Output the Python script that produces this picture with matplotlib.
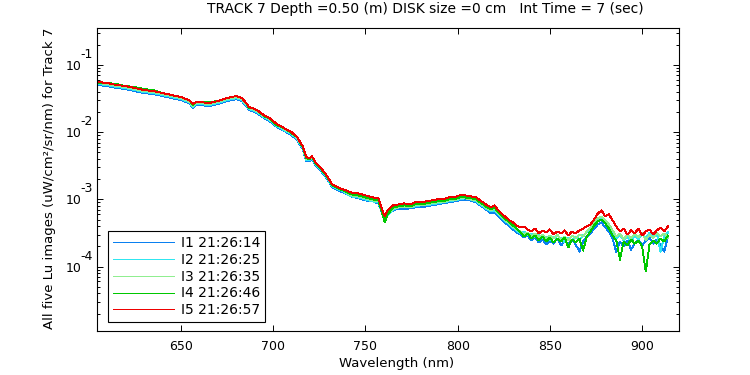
import math
import matplotlib
matplotlib.use("Agg")
import matplotlib.pyplot as plt
import matplotlib.transforms as mtransforms
from matplotlib.ticker import NullLocator, LogLocator, NullFormatter

plt.rcParams['font.family'] = ['DejaVu Sans']
plt.rcParams['font.size'] = 9

# wavelength samples (nm)
wavelength = [605, 610, 615, 620, 625, 630, 635, 640, 645, 650,
              653, 655, 656.5, 658, 661, 665, 670, 675, 680,
              683, 685, 687, 689, 692, 695, 698,
              702, 706, 710, 713, 716, 718, 719.5, 721, 723, 726, 729, 732, 735, 738,
              742, 746, 750, 754, 757, 759, 760.5, 762, 765,
              768, 771, 774, 777, 780, 783, 786, 789, 792, 795, 798, 801, 804, 807, 810,
              813, 816, 818, 820, 822, 825, 828,
              830, 832, 834, 836, 838, 840, 842, 844, 846, 848, 850, 852, 854, 856, 858,
              860, 862, 864, 866, 868, 870, 872, 874, 876, 878, 880, 882, 884, 886, 888,
              890, 892, 894, 896, 898, 900, 902, 904, 906, 908, 910, 912, 914]

# Lu (uW/cm^2/sr/nm), one list per image
lu_i1 = [0.0503, 0.0486, 0.0454, 0.0438, 0.0409, 0.0382, 0.0369, 0.0345, 0.0322, 0.0300,
         0.0280, 0.0262, 0.0228, 0.0253, 0.0253, 0.0244, 0.0262, 0.0290, 0.0311,
         0.0290, 0.0253, 0.0213, 0.0206, 0.0186, 0.0162, 0.0146,
         0.0119, 0.0104, 0.00902, 0.00760, 0.00558, 0.00369, 0.00369, 0.00395, 0.00322, 0.00262, 0.00206, 0.00151, 0.00136, 0.00127,
         0.00111, 0.00104, 0.000966, 0.000934, 0.000872, 0.000640, 0.000503, 0.000597, 0.000685,
         0.000734, 0.000709, 0.000734, 0.000760, 0.000760, 0.000786, 0.000814, 0.000842, 0.000872, 0.000902, 0.000934, 0.000966, 0.00100, 0.000966, 0.000902,
         0.000786, 0.000685, 0.000618, 0.000640, 0.000558, 0.000470, 0.000395,
         0.000357, 0.000322, 0.000300, 0.000271, 0.000290, 0.000244, 0.000271, 0.000228, 0.000253, 0.000213, 0.000244, 0.000220, 0.000262, 0.000206, 0.000236,
         0.000220, 0.000253, 0.000213, 0.000167, 0.000236, 0.000280, 0.000311, 0.000369, 0.000424, 0.000454, 0.000382, 0.000333, 0.000262, 0.000162, 0.000236,
         0.000199, 0.000244, 0.000179, 0.000220, 0.000253, 0.000206, 0.000244, 0.000271, 0.000220, 0.000253, 0.000213, 0.000167, 0.000280]

lu_i2 = [0.0520, 0.0503, 0.0470, 0.0454, 0.0424, 0.0395, 0.0382, 0.0357, 0.0333, 0.0311,
         0.0290, 0.0271, 0.0236, 0.0262, 0.0262, 0.0253, 0.0271, 0.0300, 0.0322,
         0.0300, 0.0262, 0.0220, 0.0213, 0.0192, 0.0167, 0.0151,
         0.0123, 0.0107, 0.00934, 0.00786, 0.00577, 0.00382, 0.00382, 0.00409, 0.00333, 0.00271, 0.00213, 0.00156, 0.00141, 0.00132,
         0.00111, 0.00107, 0.00100, 0.000934, 0.000902, 0.000640, 0.000486, 0.000577, 0.000709,
         0.000760, 0.000760, 0.000760, 0.000786, 0.000814, 0.000814, 0.000842, 0.000872, 0.000902, 0.000934, 0.000966, 0.00100, 0.00104, 0.00100, 0.000934,
         0.000814, 0.000709, 0.000662, 0.000685, 0.000597, 0.000503, 0.000424,
         0.000382, 0.000345, 0.000311, 0.000333, 0.000290, 0.000311, 0.000271, 0.000300, 0.000262, 0.000280, 0.000244, 0.000280, 0.000253, 0.000271, 0.000228,
         0.000271, 0.000244, 0.000280, 0.000253, 0.000290, 0.000322, 0.000369, 0.000438, 0.000503, 0.000539, 0.000470, 0.000409, 0.000333, 0.000262, 0.000300,
         0.000244, 0.000280, 0.000236, 0.000290, 0.000253, 0.000311, 0.000262, 0.000322, 0.000271, 0.000311, 0.000167, 0.000280, 0.000322]

lu_i3 = [0.0539, 0.0520, 0.0486, 0.0470, 0.0438, 0.0409, 0.0395, 0.0369, 0.0345, 0.0322,
         0.0300, 0.0280, 0.0244, 0.0271, 0.0271, 0.0262, 0.0280, 0.0311, 0.0333,
         0.0311, 0.0271, 0.0228, 0.0220, 0.0199, 0.0173, 0.0156,
         0.0127, 0.0111, 0.00966, 0.00814, 0.00597, 0.00395, 0.00395, 0.00424, 0.00345, 0.00280, 0.00220, 0.00162, 0.00146, 0.00136,
         0.00115, 0.00111, 0.00104, 0.000966, 0.000934, 0.000662, 0.000486, 0.000597, 0.000734,
         0.000760, 0.000786, 0.000760, 0.000814, 0.000814, 0.000842, 0.000872, 0.000902, 0.000902, 0.000966, 0.000966, 0.00104, 0.00104, 0.00100, 0.000966,
         0.000842, 0.000734, 0.000685, 0.000734, 0.000618, 0.000520, 0.000438,
         0.000395, 0.000357, 0.000333, 0.000300, 0.000322, 0.000280, 0.000311, 0.000271, 0.000300, 0.000262, 0.000290, 0.000262, 0.000300, 0.000253, 0.000280,
         0.000244, 0.000290, 0.000262, 0.000300, 0.000280, 0.000333, 0.000382, 0.000454, 0.000520, 0.000558, 0.000486, 0.000424, 0.000345, 0.000280, 0.000311,
         0.000253, 0.000300, 0.000262, 0.000311, 0.000271, 0.000322, 0.000244, 0.000300, 0.000262, 0.000322, 0.000280, 0.000311, 0.000271]

lu_i4 = [0.0539, 0.0539, 0.0520, 0.0486, 0.0470, 0.0438, 0.0424, 0.0382, 0.0357, 0.0333,
         0.0311, 0.0290, 0.0253, 0.0280, 0.0280, 0.0280, 0.0290, 0.0322, 0.0345,
         0.0322, 0.0280, 0.0228, 0.0228, 0.0206, 0.0173, 0.0162,
         0.0127, 0.0115, 0.00966, 0.00842, 0.00597, 0.00409, 0.00395, 0.00438, 0.00345, 0.00280, 0.00220, 0.00162, 0.00146, 0.00136,
         0.00119, 0.00115, 0.00107, 0.00100, 0.000966, 0.000640, 0.000454, 0.000597, 0.000760,
         0.000786, 0.000814, 0.000786, 0.000842, 0.000842, 0.000872, 0.000902, 0.000934, 0.000934, 0.00100, 0.00100, 0.00107, 0.00107, 0.00104, 0.00100,
         0.000872, 0.000760, 0.000709, 0.000760, 0.000640, 0.000539, 0.000454,
         0.000409, 0.000369, 0.000322, 0.000280, 0.000311, 0.000262, 0.000290, 0.000244, 0.000280, 0.000236, 0.000271, 0.000228, 0.000262, 0.000236, 0.000271,
         0.000192, 0.000253, 0.000228, 0.000262, 0.000173, 0.000280, 0.000333, 0.000409, 0.000470, 0.000503, 0.000438, 0.000369, 0.000290, 0.000244, 0.000127,
         0.000236, 0.000206, 0.000253, 0.000220, 0.000244, 0.000199, 0.0000842, 0.000213, 0.000244, 0.000220, 0.000262, 0.000236, 0.000290]

lu_i5 = [0.0558, 0.0539, 0.0503, 0.0486, 0.0454, 0.0424, 0.0409, 0.0382, 0.0357, 0.0333,
         0.0311, 0.0290, 0.0262, 0.0280, 0.0280, 0.0271, 0.0290, 0.0322, 0.0345,
         0.0322, 0.0280, 0.0236, 0.0228, 0.0206, 0.0179, 0.0162,
         0.0132, 0.0115, 0.0100, 0.00842, 0.00618, 0.00424, 0.00409, 0.00438, 0.00357, 0.00290, 0.00228, 0.00167, 0.00151, 0.00141,
         0.00127, 0.00123, 0.00115, 0.00107, 0.00104, 0.000709, 0.000558, 0.000685, 0.000814,
         0.000842, 0.000872, 0.000842, 0.000902, 0.000902, 0.000934, 0.000966, 0.00100, 0.00100, 0.00107, 0.00107, 0.00115, 0.00115, 0.00111, 0.00107,
         0.000934, 0.000814, 0.000760, 0.000814, 0.000685, 0.000577, 0.000486,
         0.000454, 0.000409, 0.000382, 0.000395, 0.000357, 0.000333, 0.000369, 0.000311, 0.000345, 0.000322, 0.000357, 0.000300, 0.000333, 0.000311, 0.000345,
         0.000290, 0.000333, 0.000311, 0.000345, 0.000369, 0.000395, 0.000424, 0.000503, 0.000618, 0.000685, 0.000558, 0.000597, 0.000486, 0.000395, 0.000333,
         0.000369, 0.000300, 0.000345, 0.000311, 0.000369, 0.000290, 0.000333, 0.000357, 0.000300, 0.000345, 0.000382, 0.000333, 0.000395]

labels = ['I1 21:26:14', 'I2 21:26:25', 'I3 21:26:35', 'I4 21:26:46', 'I5 21:26:57']
colors = ['#0a80f0', '#30e6f0', '#90ee90', '#00c800', '#ee0000']
series = [lu_i1, lu_i2, lu_i3, lu_i4, lu_i5]

fig = plt.figure(figsize=(7.5, 3.75), dpi=100)
ax = fig.add_axes([97/750, 1-331/375, 582/750, 303/375])

for vals, lab, col in zip(series, labels, colors):
    ax.plot(wavelength, vals, color=col, lw=0.65, antialiased=False, label=lab)

ax.set_yscale('log')
ax.set_xlim(604.5, 920)
ax.set_ylim(1.1e-5, 0.355)
ax.set_xticks([650, 700, 750, 800, 850, 900])
ax.xaxis.set_minor_locator(NullLocator())
ax.set_yticks([1e-4, 1e-3, 1e-2, 1e-1])
ax.yaxis.set_minor_locator(LogLocator(base=10, subs=range(2, 10)))
ax.set_yticklabels([])
ax.yaxis.set_minor_formatter(NullFormatter())

ax.tick_params(which='both', direction='in', top=True, right=True, width=0.7, color='black')
ax.tick_params(which='major', length=4.3, pad=6.5, labelsize=9)
ax.tick_params(which='minor', length=2.2)
for s in ax.spines.values():
    s.set_linewidth(0.8)

# MATLAB style 10^n labels
ytrans = ax.get_yaxis_transform()
base_tr = mtransforms.offset_copy(ytrans, fig=fig, x=-15, y=-5, units='dots')
exp_tr = mtransforms.offset_copy(ytrans, fig=fig, x=-17, y=7, units='dots')
for t in ax.get_yticks():
    ax.text(0, t, '10', transform=base_tr, ha='right', va='baseline', fontsize=9)
    ax.text(0, t, '-%d' % round(-math.log10(t)), transform=exp_tr,
            ha='left', va='baseline', fontsize=9)

ax.set_xlabel('Wavelength (nm)', fontsize=9.5)
ax.xaxis.label.set_va('baseline')
ax.xaxis.set_label_coords(0.514, -0.1188)
ax.set_ylabel('All five Lu images (uW/cm\u00b2/sr/nm) for Track 7', fontsize=9.5)
ax.yaxis.set_label_coords(-0.0704, 0.503)

fig.text(425/750, 1-13/375, 'TRACK 7 Depth =0.50 (m) DISK size =0 cm   Int Time = 7 (sec)',
         ha='center', va='baseline', fontsize=10)

leg = ax.legend(loc='lower left', bbox_to_anchor=(11/582, 9/303), borderaxespad=0,
                fancybox=False, edgecolor='black', framealpha=1, handlelength=4.4,
                handletextpad=0.5, labelspacing=0.2, borderpad=0.35, fontsize=10)
leg.get_frame().set_linewidth(0.8)
for h in leg.get_lines():
    h.set_antialiased(False)

fig.savefig('out.png', dpi=100)
